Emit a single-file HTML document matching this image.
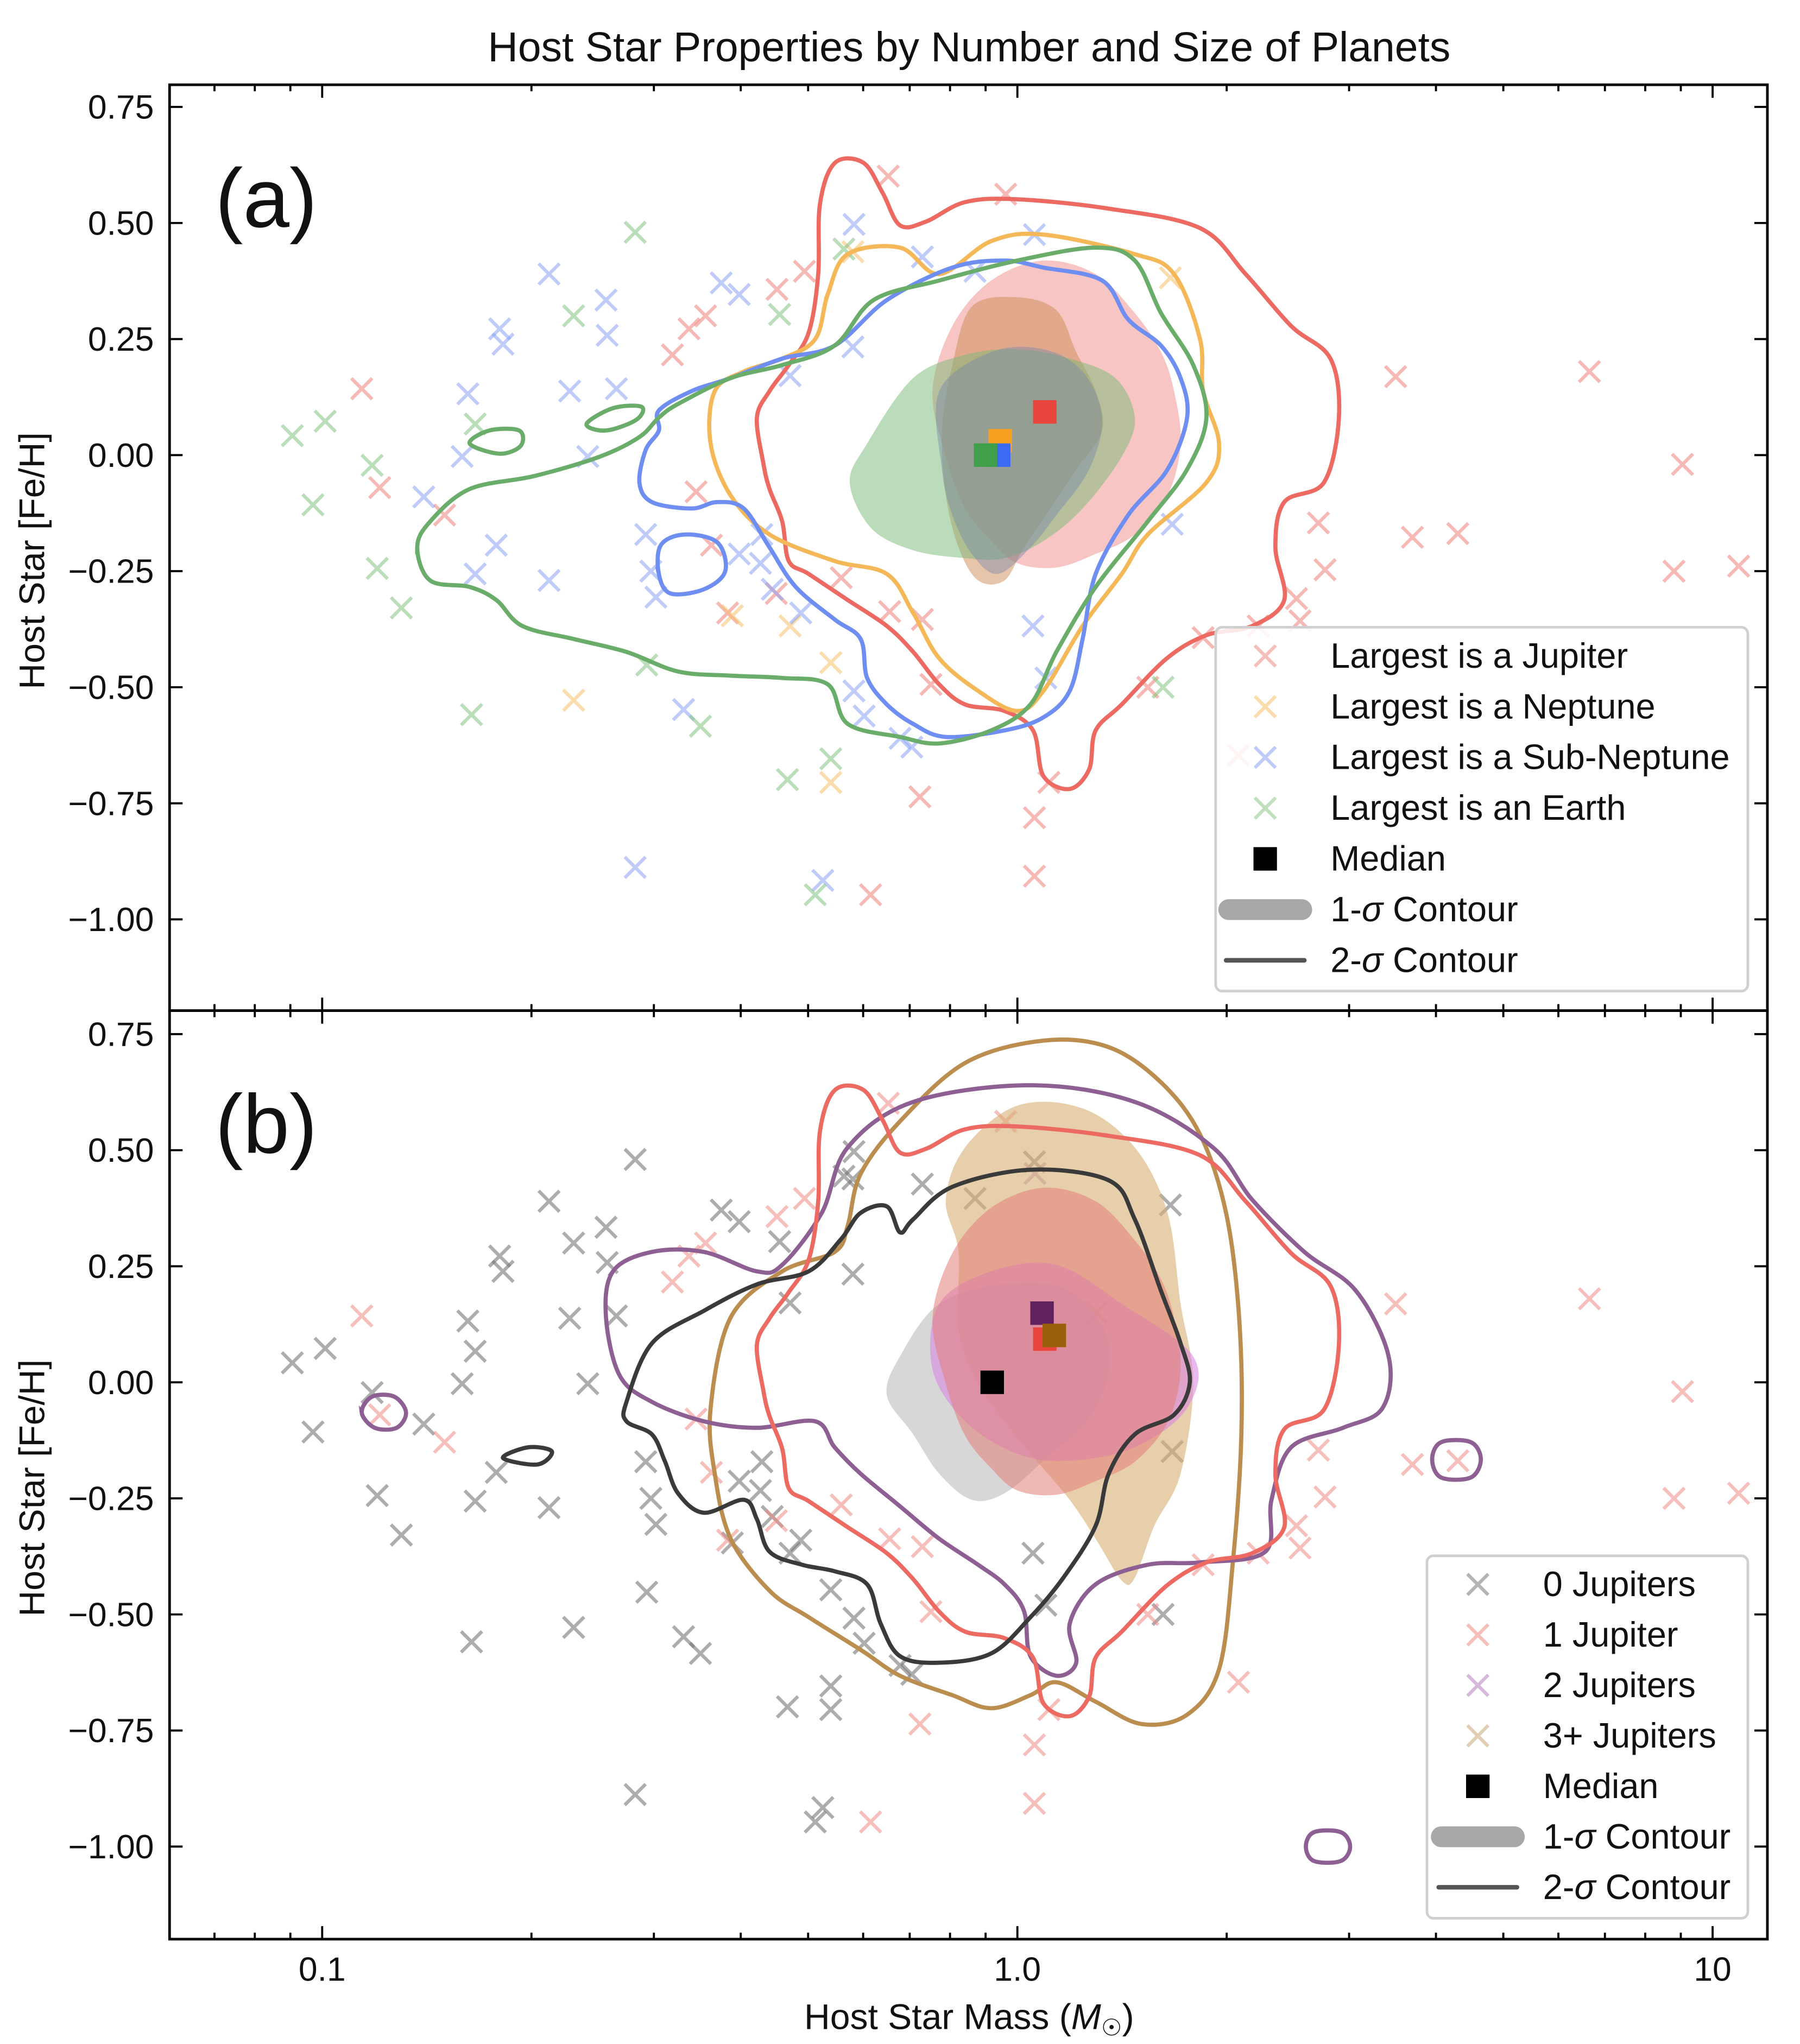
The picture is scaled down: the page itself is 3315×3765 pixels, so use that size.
<!DOCTYPE html>
<html><head><meta charset="utf-8"><style>
html,body{margin:0;padding:0;background:#fff}
svg{display:block}
text{font-family:"Liberation Sans",sans-serif;fill:#111}
</style></head><body>
<svg id="fig" xmlns="http://www.w3.org/2000/svg" width="3315" height="3765" viewBox="0 0 1380 1567.4" preserveAspectRatio="none">
<rect width="1380" height="1567.4" fill="#fff"/>
<text x="743" y="47" font-size="32" text-anchor="middle">Host Star Properties by Number and Size of Planets</text>
<g id="top"></g><g id="bot"></g>
<text x="743" y="1556" font-size="27.5" text-anchor="middle">Host Star Mass (<tspan font-style="italic">M</tspan><tspan font-size="18" dy="5">☉</tspan><tspan dy="-5">)</tspan></text>
</svg>
<script>
// ---------- data (mass in solar masses, [Fe/H]) ----------
const jupPts=[[.652,.601],[.962,.562],[.494,.396],[.451,.357],[.356,.300],[.337,.272],[.319,.216],[.114,.143],[.121,-.070],[.150,-.129],[.345,-.079],[.363,-.194],[.383,-.340],[.450,-.298],[.655,-.337],[.730,-.354],[.751,-.494],[.724,-.736],[1.058,-.781],[1.058,-.907],[.615,-.947],[3.50,.169],[6.65,.180],[9.05,-.020],[3.70,-.177],[4.30,-.169],[8.8,-.250],[10.9,-.239],[2.71,-.146],[2.77,-.247],[2.52,-.309],[2.55,-.357],[2.22,-.368],[1.85,-.393],[1.54,-.500],[2.08,-.646],[1.11,-.705],[.558,-.264]];
const nepPts=[[1.66,.382],[.580,.438],[.389,-.346],[.471,-.368],[.539,-.447],[.539,-.705],[.230,-.528]];
const subPts=[[.212,.390],[.18,.272],[.182,.239],[.256,.334],[.257,.258],[.375,.371],[.398,.346],[.265,.143],[.162,.132],[.159,-.003],[.241,-.003],[.140,-.090],[.178,-.194],[.212,-.270],[.166,-.256],[.292,-.171],[.297,-.250],[.302,-.306],[.429,-.171],[.398,-.213],[.427,-.233],[.444,-.289],[.488,-.340],[.580,.233],[.582,.497],[.730,.427],[.869,.396],[1.058,.475],[1.053,-.368],[1.099,-.480],[1.67,-.149],[.582,-.508],[.602,-.562],[.678,-.610],[.705,-.629],[.331,-.548],[.282,-.888],[.525,-.916],[.471,.171],[.227,.138]];
const earPts=[[.0906,.042],[.101,.073],[.097,-.107],[.118,-.022],[.120,-.244],[.130,-.329],[.164,-.559],[.166,.067],[.230,.300],[.282,.480],[.455,.303],[.563,.444],[.293,-.452],[.350,-.584],[.467,-.699],[.539,-.654],[.512,-.947],[1.62,-.500]];
const twoJupPts=[[1.06,.45]];
const threeJupPts=[[1.30,.15]];
const medTop=[[1.095,.093],[.945,.031],[.94,0],[.90,0]];
const medBot=[[.92,0],[1.095,.093],[1.085,.149],[1.13,.101]];
// contours
const jup2=[[.546,.629],[.600,.630],[.640,.565],[.678,.495],[.739,.503],[.841,.545],[1.0,.551],[1.353,.531],[1.831,.489],[2.13,.390],[2.476,.278],[2.82,.208],[2.90,.081],[2.76,-.059],[2.42,-.101],[2.35,-.199],[2.42,-.312],[2.177,-.368],[1.87,-.388],[1.64,-.438],[1.413,-.537],[1.296,-.593],[1.268,-.677],[1.189,-.719],[1.09,-.691],[1.053,-.593],[.958,-.551],[.841,-.537],[.772,-.494],[.708,-.424],[.649,-.368],[.570,-.312],[.501,-.256],[.469,-.228],[.459,-.143],[.440,-.073],[.431,-.017],[.422,.081],[.440,.138],[.469,.194],[.501,.264],[.517,.390],[.520,.540]];
const nep2=[[.534,.348],[.570,.433],[.678,.447],[.772,.390],[.917,.461],[1.09,.475],[1.475,.433],[1.68,.390],[1.831,.250],[1.85,.138],[1.95,.025],[1.87,-.059],[1.54,-.171],[1.413,-.256],[1.241,-.368],[1.09,-.508],[1.0,-.551],[.878,-.508],[.772,-.438],[.708,-.340],[.649,-.256],[.546,-.228],[.440,-.171],[.387,-.087],[.362,.025],[.367,.138],[.404,.180],[.459,.208],[.512,.250]];
const sub2=[[.305,.096],[.340,.138],[.387,.166],[.459,.208],[.546,.236],[.649,.334],[.806,.404],[.958,.419],[1.09,.404],[1.324,.376],[1.444,.292],[1.609,.236],[1.717,.166],[1.754,.081],[1.644,-.031],[1.444,-.129],[1.296,-.256],[1.241,-.396],[1.189,-.508],[1.09,-.565],[.958,-.593],[.789,-.607],[.708,-.579],[.649,-.537],[.608,-.480],[.595,-.396],[.546,-.354],[.480,-.284],[.440,-.199],[.404,-.115],[.370,-.101],[.340,-.115],[.298,-.101],[.286,-.059],[.292,.011],[.305,.053]];
const sub2loop=[[.305,-.256],[.307,-.194],[.332,-.171],[.370,-.188],[.380,-.250],[.354,-.289],[.317,-.298]];
const ear2=[[.137,-.199],[.143,-.143],[.163,-.073],[.202,-.045],[.251,-.003],[.286,.039],[.305,.081],[.325,.110],[.387,.166],[.459,.194],[.546,.236],[.621,.334],[.772,.376],[1.0,.419],[1.296,.447],[1.475,.419],[1.609,.306],[1.79,.194],[1.87,.081],[1.754,-.031],[1.54,-.143],[1.296,-.284],[1.138,-.424],[1.044,-.537],[.917,-.593],[.772,-.621],[.678,-.607],[.570,-.579],[.534,-.494],[.459,-.480],[.387,-.475],[.325,-.466],[.274,-.424],[.230,-.396],[.194,-.368],[.178,-.312],[.163,-.284],[.143,-.270]];
const ear2loopA=[[.163,.025],[.174,.053],[.192,.053],[.193,.020],[.180,.003]];
const ear2loopB=[[.240,.067],[.262,.101],[.288,.104],[.283,.076],[.256,.053]];
const jup1=[[.917,.376],[1.09,.419],[1.296,.390],[1.475,.306],[1.609,.222],[1.68,.138],[1.717,.025],[1.644,-.087],[1.475,-.171],[1.296,-.213],[1.138,-.242],[1.0,-.233],[.917,-.185],[.841,-.115],[.789,-.003],[.755,.138],[.806,.278]];
const nep1=[[.860,.320],[1.0,.340],[1.138,.312],[1.215,.222],[1.296,.138],[1.324,.053],[1.215,-.031],[1.114,-.115],[1.022,-.199],[.958,-.270],[.878,-.270],[.823,-.199],[.789,-.087],[.779,.053],[.806,.194]];
const ear1=[[.708,.166],[.841,.216],[1.0,.228],[1.189,.208],[1.383,.166],[1.475,.081],[1.413,-.003],[1.241,-.115],[1.09,-.185],[.958,-.222],[.841,-.222],[.708,-.205],[.616,-.157],[.574,-.059],[.608,.025]];
const sub1=[[.772,.138],[.917,.222],[1.09,.228],[1.241,.180],[1.324,.081],[1.268,-.031],[1.138,-.129],[1.044,-.199],[.937,-.256],[.860,-.213],[.806,-.129],[.779,-.031]];
const zero2=[[.274,-.042],[.298,.084],[.354,.154],[.422,.211],[.501,.239],[.558,.309],[.595,.365],[.649,.379],[.678,.323],[.708,.351],[.806,.421],[1.044,.458],[1.353,.435],[1.475,.351],[1.609,.197],[1.717,.084],[1.77,0],[1.68,-.070],[1.475,-.112],[1.353,-.197],[1.296,-.309],[1.164,-.421],[1.044,-.506],[.917,-.584],[.772,-.604],[.678,-.590],[.636,-.520],[.608,-.435],[.546,-.407],[.490,-.393],[.440,-.365],[.422,-.295],[.404,-.253],[.354,-.281],[.325,-.239],[.311,-.169],[.298,-.112],[.274,-.084]];
const zero2loop=[[.182,-.163],[.198,-.140],[.214,-.149],[.204,-.177]];
const two2=[[.262,.239],[.298,.281],[.354,.281],[.422,.239],[.459,.253],[.523,.365],[.570,.506],[.708,.604],[1.044,.640],[1.475,.604],[1.911,.506],[2.177,.393],[2.587,.281],[3.07,.197],[3.42,.056],[3.35,-.056],[2.94,-.098],[2.476,-.140],[2.32,-.253],[2.272,-.365],[1.831,-.388],[1.54,-.393],[1.296,-.435],[1.189,-.520],[1.215,-.604],[1.138,-.632],[1.044,-.590],[1.022,-.492],[.958,-.435],[.878,-.393],[.772,-.337],[.678,-.267],[.595,-.197],[.546,-.140],[.512,-.084],[.422,-.098],[.354,-.084],[.298,-.042],[.268,.014],[.256,.140]];
const two2loopA=[[.114,-.065],[.118,-.031],[.127,-.031],[.132,-.065],[.128,-.098],[.119,-.098]];
const two2loopB=[[3.95,-.166],[4.07,-.129],[4.49,-.129],[4.64,-.166],[4.49,-.205],[4.07,-.205]];
const two2loopC=[[2.60,-1.0],[2.67,-.969],[2.92,-.969],[3.01,-1.0],[2.92,-1.031],[2.67,-1.031]];
const three2=[[.362,-.056],[.387,.140],[.459,.239],[.546,.281],[.570,.337],[.595,.449],[.678,.562],[.841,.688],[1.09,.736],[1.353,.722],[1.609,.646],[1.831,.534],[1.996,.365],[2.084,.140],[2.10,-.112],[2.04,-.393],[1.95,-.618],[1.754,-.716],[1.508,-.736],[1.296,-.688],[1.138,-.646],[1.044,-.674],[.917,-.702],[.806,-.674],[.678,-.632],[.595,-.576],[.501,-.506],[.440,-.449],[.387,-.337],[.367,-.197]];
const zero1=[[.678,.056],[.772,.169],[.958,.211],[1.189,.197],[1.353,.084],[1.296,-.056],[1.09,-.169],[.958,-.239],[.860,-.253],[.772,-.197],[.708,-.112],[.649,-.028]];
const three1=[[.841,.506],[1.0,.596],[1.241,.590],[1.475,.506],[1.644,.365],[1.717,.169],[1.79,0],[1.717,-.197],[1.574,-.309],[1.475,-.421],[1.413,-.427],[1.296,-.337],[1.189,-.253],[1.066,-.169],[.958,-.084],[.878,0],[.823,.112],[.823,.281],[.789,.393]];
const two1=[[.772,.169],[.917,.239],[1.138,.253],[1.413,.169],[1.79,.056],[1.754,-.056],[1.475,-.140],[1.189,-.169],[1.0,-.154],[.841,-.084],[.755,.028]];
const yTicks=[0.75,0.5,0.25,0,-0.25,-0.5,-0.75,-1.0];
const xMajor=[0.1,1,10];
const xMajorLabels=["0.1","1.0","10"];
const legTopLabels=["Largest is a Jupiter","Largest is a Neptune","Largest is a Sub-Neptune","Largest is an Earth","Median"];
const legBotLabels=["0 Jupiters","1 Jupiter","2 Jupiters","3+ Jupiters","Median"];

// ---------- axes ----------
const L=130,R=1355,T1=65,B1=775,T2=775,B2=1487;
const xs=m=>780+533*Math.log10(m);
const yT=f=>349-356*f;
const yB=f=>1060-356*f;
const NS="http://www.w3.org/2000/svg";
function mk(tag,attrs,parent){const e=document.createElementNS(NS,tag);for(const k in attrs)e.setAttribute(k,attrs[k]);parent.appendChild(e);return e;}
function smooth(pts){const n=pts.length;let d=`M${pts[0][0]},${pts[0][1]}`;for(let i=0;i<n;i++){const p0=pts[(i-1+n)%n],p1=pts[i],p2=pts[(i+1)%n],p3=pts[(i+2)%n];const c1=[p1[0]+(p2[0]-p0[0])/6,p1[1]+(p2[1]-p0[1])/6],c2=[p2[0]-(p3[0]-p1[0])/6,p2[1]-(p3[1]-p1[1])/6];d+=`C${c1[0].toFixed(1)},${c1[1].toFixed(1)} ${c2[0].toFixed(1)},${c2[1].toFixed(1)} ${p2[0].toFixed(1)},${p2[1].toFixed(1)}`;}return d+'Z';}
function fill(g,data,ys,color,name){const p=mk('path',{d:smooth(data.map(d=>[xs(d[0]),ys(d[1])])),fill:color,stroke:'none'},g);

}
function line(g,data,ys,color,name){const p=mk('path',{d:smooth(data.map(d=>[xs(d[0]),ys(d[1])])),fill:'none',stroke:color,'stroke-width':3.2},g);

}
function xm(g,x,y,color,op,name){const s=8;const p=mk('path',{d:`M${x-s},${y-s}L${x+s},${y+s}M${x-s},${y+s}L${x+s},${y-s}`,stroke:color,'stroke-width':2.6,'stroke-opacity':op,fill:'none'},g);

}
function pts(g,data,ys,color,op,name){data.forEach(d=>xm(g,xs(d[0]),ys(d[1]),color,op,name));}
function sq(g,x,y,color,name){const r=mk('rect',{x:x-9,y:y-9,width:18,height:18,fill:color},g);

}
function axes(g,T,B,ys,showX,label,labelName){
 const ax=mk('rect',{x:L,y:T,width:R-L,height:B-T,fill:'none',stroke:'#000','stroke-width':2},g);
 
 
 yTicks.forEach(v=>{const y=ys(v);mk('line',{x1:L,x2:L+10,y1:y,y2:y,stroke:'#000','stroke-width':1.6},g);mk('line',{x1:R,x2:R-10,y1:y,y2:y,stroke:'#000','stroke-width':1.6},g);
  const t=mk('text',{x:L-12,y:y+9,'font-size':26,'text-anchor':'end'},g);t.textContent=(v<0?'\u2212':'')+Math.abs(v).toFixed(2);
  
  });
 for(let e=-2;e<=1;e++)for(let k=1;k<10;k++){const m=k*Math.pow(10,e);const x=xs(m);if(x<L||x>R)continue;const len=k===1?10:5;
  mk('line',{x1:x,x2:x,y1:B,y2:B-len,stroke:'#000','stroke-width':1.6},g);mk('line',{x1:x,x2:x,y1:T,y2:T+len,stroke:'#000','stroke-width':1.6},g);}
 if(showX)xMajor.forEach((v,i)=>{const t=mk('text',{x:xs(v),y:B+32,'font-size':26,'text-anchor':'middle'},g);t.textContent=xMajorLabels[i];
  
  });
 const yl=mk('text',{x:0,y:0,'font-size':27.5,'text-anchor':'middle',transform:`translate(34,${(T+B)/2+10}) rotate(-90)`},g);yl.textContent='Host Star [Fe/H]';
 
 
 const pl=mk('text',{x:165,y:T+109,'font-size':64,fill:'#262626'},g);pl.textContent=label;
 
 
}
function legend(g,x,y,w,h,x0,items,dy,name){
 const lg=mk('g',{},g);
 
 
 mk('rect',{x,y,width:w,height:h,rx:5,fill:'#fff','fill-opacity':0.85,stroke:'#d0d0d0','stroke-width':2},lg);
 items.forEach((it,i)=>{const cy=y+22+i*dy;
  if(it.t==='x')xm(lg,x0,cy,it.c,0.55,'legend-marker');
  else if(it.t==='s')sq(lg,x0,cy,'#000','legend-marker');
  else if(it.t==='f'){const r=mk('rect',{x:x0-36,y:cy-8,width:72,height:16,rx:8,fill:'#a8a8a8'},lg);}
  else {const r=mk('line',{x1:x0-30,x2:x0+30,y1:cy,y2:cy,stroke:'#555','stroke-width':3.5,'stroke-linecap':'round'},lg);}
  const t=mk('text',{x:x0+50,y:cy+9,'font-size':27},lg);
  if(it.sig){t.innerHTML=it.sig+'-<tspan font-style="italic">σ</tspan> Contour';}else t.textContent=it.l;
  
  });
}

// ---------- top panel ----------
const gt=document.getElementById('top');


pts(gt,jupPts,yT,'#f08a84',0.6,'jupiter-point');
pts(gt,nepPts,yT,'#f6bf6a',0.55,'neptune-point');
pts(gt,subPts,yT,'#8aa3f5',0.55,'sub-neptune-point');
pts(gt,earPts,yT,'#8cc78c',0.6,'earth-point');
fill(gt,jup1,yT,'rgba(240,140,135,0.5)','jupiter-1sigma');
fill(gt,nep1,yT,'rgba(205,140,85,0.5)','neptune-1sigma');
fill(gt,ear1,yT,'rgba(120,185,120,0.5)','earth-1sigma');
fill(gt,sub1,yT,'rgba(110,130,170,0.4)','sub-neptune-1sigma');
line(gt,jup2,yT,'#ec6a62','jupiter-2sigma');
line(gt,nep2,yT,'#f5b858','neptune-2sigma');
line(gt,sub2,yT,'#6f8ef2','sub-neptune-2sigma');
line(gt,sub2loop,yT,'#6f8ef2','sub-neptune-2sigma-island');
line(gt,ear2,yT,'#6aad6a','earth-2sigma');
line(gt,ear2loopA,yT,'#6aad6a','earth-2sigma-island');
line(gt,ear2loopB,yT,'#6aad6a','earth-2sigma-island');
const medTopColors=['#e8453c','#f5a020','#3d6af5','#3f9f4a'];
const medTopNames=['median-jupiter','median-neptune','median-sub-neptune','median-earth'];
medTop.forEach((d,i)=>sq(gt,xs(d[0]),yT(d[1]),medTopColors[i],medTopNames[i]));
axes(gt,T1,B1,yT,false,'(a)','panel-label-a');
legend(gt,932,481,408,279,970,[{t:'x',c:'#f08a84',l:legTopLabels[0]},{t:'x',c:'#f6bf6a',l:legTopLabels[1]},{t:'x',c:'#8aa3f5',l:legTopLabels[2]},{t:'x',c:'#8cc78c',l:legTopLabels[3]},{t:'s',l:legTopLabels[4]},{t:'f',sig:'1'},{t:'l',sig:'2'}],38.9,'legend-a');

// ---------- bottom panel ----------
const gb=document.getElementById('bot');


pts(gb,nepPts.concat(subPts,earPts),yB,'#777',0.6,'zero-jupiter-point');
pts(gb,jupPts,yB,'#f08a84',0.55,'one-jupiter-point');
pts(gb,twoJupPts,yB,'#b080b8',0.55,'two-jupiter-point');
pts(gb,threeJupPts,yB,'#c9a878',0.55,'three-jupiter-point');
fill(gb,three1,yB,'rgba(215,175,115,0.6)','three-jupiter-1sigma');
fill(gb,zero1,yB,'rgba(175,175,175,0.5)','zero-jupiter-1sigma');
fill(gb,two1,yB,'rgba(215,130,225,0.55)','two-jupiter-1sigma');
fill(gb,jup1,yB,'rgba(228,125,120,0.55)','one-jupiter-1sigma');
line(gb,three2,yB,'#bb8d4f','three-jupiter-2sigma');
line(gb,two2,yB,'#8e5f93','two-jupiter-2sigma');
line(gb,two2loopA,yB,'#8e5f93','two-jupiter-2sigma-island');
line(gb,two2loopB,yB,'#8e5f93','two-jupiter-2sigma-island');
line(gb,two2loopC,yB,'#8e5f93','two-jupiter-2sigma-island');
line(gb,jup2,yB,'#ec6a62','one-jupiter-2sigma');
line(gb,zero2,yB,'#3a3a3a','zero-jupiter-2sigma');
line(gb,zero2loop,yB,'#3a3a3a','zero-jupiter-2sigma-island');
const medBotColors=['#000','#e8453c','#63205f','#9a5f0a'];
const medBotNames=['median-zero-jupiter','median-one-jupiter','median-two-jupiter','median-three-jupiter'];
medBot.forEach((d,i)=>sq(gb,xs(d[0]),yB(d[1]),medBotColors[i],medBotNames[i]));
axes(gb,T2,B2,yB,true,'(b)','panel-label-b');
legend(gb,1094,1193,246,278,1133,[{t:'x',c:'#777',l:legBotLabels[0]},{t:'x',c:'#f08a84',l:legBotLabels[1]},{t:'x',c:'#b080b8',l:legBotLabels[2]},{t:'x',c:'#c9a878',l:legBotLabels[3]},{t:'s',l:legBotLabels[4]},{t:'f',sig:'1'},{t:'l',sig:'2'}],38.7,'legend-b');
</script>
</body></html>
